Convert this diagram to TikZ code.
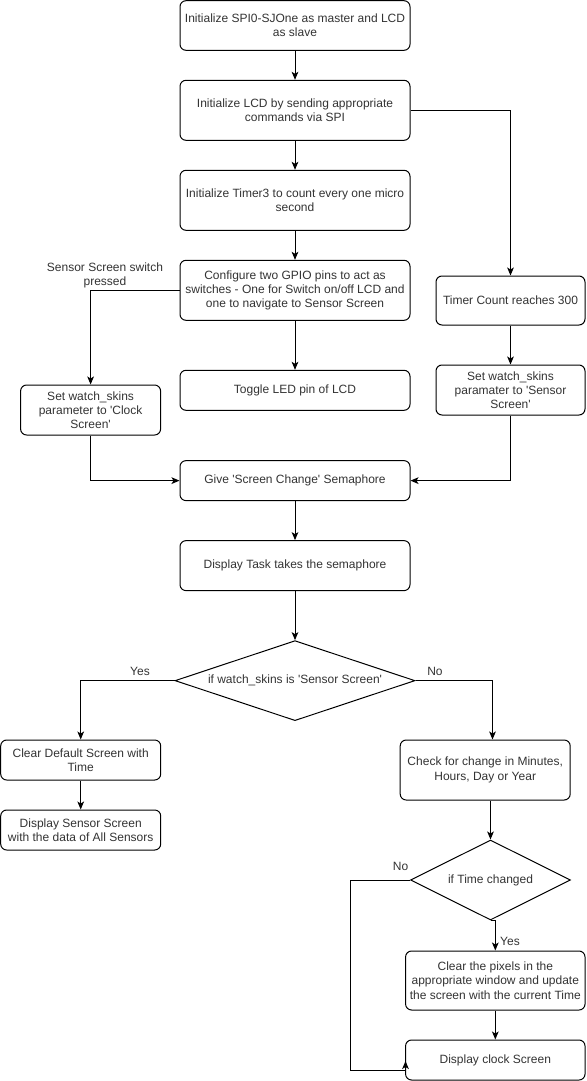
\documentclass[tikz,border=0pt]{standalone}
\usepackage{fontspec}
\setmainfont{Liberation Sans}
\usetikzlibrary{arrows.meta, positioning, shapes.geometric}

\newcommand{\sq}{\textquotesingle}

\begin{document}
\begin{tikzpicture}[
            x=0.75pt, y=-0.75pt,
            node distance = 21.75pt,
            semithick,
            font=\fontsize{9pt}{10.7pt}\selectfont,
            every node/.style={text=black!80},
            box/.style={draw=black, line width=0.75pt, rounded corners=4.5pt,
                align=center, inner sep=2pt, minimum width=172.5pt, minimum height=45pt},
            choice/.style={draw=black, line width=0.75pt, shape=diamond, aspect=3,
                align=center, inner sep=0pt},
            arr/.style={line width=0.75pt, -{Stealth[length=6pt, width=5pt, inset=1.5pt]}}
        ]

        \useasboundingbox (0,0) rectangle (586,1081);

        % main column
        \node[box, minimum height=37.2pt] (init) at (295,25.5)
            {Initialize SPI0-SJOne as master and LCD\\as slave};
        \node[box] (lcd) [below=of init]
            {Initialize LCD by sending appropriate\\commands via SPI};
        \node[box] (tim) [below=of lcd]
            {Initialize Timer3 to count every one micro\\second};
        \node[box] (gpio) [below=of tim]
            {Configure two GPIO pins to act as\\switches - One for Switch on/off LCD and\\one to navigate to Sensor Screen};
        \node[box, minimum height=30pt] (tog) [below=36.75pt of gpio] {Toggle LED pin of LCD};
        \node[box, minimum height=30pt] (sem) [below=37pt of tog]
            {Give \sq Screen Change\sq{} Semaphore};
        \node[box, minimum height=37.5pt] (task) [below=29.25pt of sem]
            {Display Task takes the semaphore};
        \node[choice, minimum width=180pt, minimum height=60pt] (dia) [below=36.75pt of task]
            {if watch\_skins is \sq Sensor Screen\sq};

        % side branches
        \node[box, minimum width=105pt, minimum height=37.5pt] (clk) at (90.6,410)
            {Set watch\_skins\\parameter to \sq Clock\\Screen\sq};
        \node[box, minimum width=111.75pt, minimum height=36.75pt] (tmr) at (510.5,300.5)
            {Timer Count reaches 300};
        \node[box, minimum width=111.75pt, minimum height=37.5pt] (snsr) at (510.5,390)
            {Set watch\_skins\\paramater to \sq Sensor\\Screen\sq};
        \node (swlbl) at (105,275.5) [align=center] {Sensor Screen switch\\pressed};

        % sensor screen
        \node[box, minimum width=120pt, minimum height=30pt] (clr) at (80.7,760)
            {Clear Default Screen with\\Time};
        \node[box, minimum width=120pt, minimum height=30pt] (dss) at (80.7,830)
            {Display Sensor Screen\\with the data of All Sensors};

        % clock screen
        \node[box, minimum width=127.5pt, minimum height=45pt] (chk) at (485.2,770)
            {Check for change in Minutes,\\Hours, Day or Year};
        \node[choice, minimum width=120pt, minimum height=60pt] (tchk) at (490.5,880)
            {if Time changed};
        \node[box, minimum width=134.6pt, minimum height=44.25pt] (pix) at (495.3,980.5)
            {Clear the pixels in the\\appropriate window and update\\the screen with the current Time};
        \node[box, minimum width=134.6pt, minimum height=30pt] (dcs) at (495.3,1060)
            {Display clock Screen};
        \coordinate (loopend) at (405.5,1061);

        \node (yes1) at (140,671) {Yes};
        \node (no1) at (435,671) {No};
        \node (no2) at (400.6,866) {No};
        \node (yes2) at (510,941) {Yes};

        \path[arr] (init) edge (lcd);
        \path[arr] (lcd) edge (tim);
        \path[arr] (tim) edge (gpio);
        \path[arr] (gpio) edge (tog);
        \path[arr] (sem) edge (task);
        \path[arr] (task) edge (dia);
        \path[arr] (clr) edge (dss);
        \path[arr] (pix) edge (dcs);
        \draw[arr] (lcd.east) -| (tmr.north);
        \draw[arr] (tmr) -- (snsr);
        \draw[arr] (gpio.west) -| (clk.north);
        \draw[arr] (clk.south) |- (sem.west);
        \draw[arr] (snsr.south) |- (sem.east);
        \draw[arr] (dia.west) -| (clr.north);
        \draw[arr] (dia.east) -| (chk.north -| 492.5,0);
        \draw[arr] (chk.south -| tchk.north) -- (tchk.north);
        \draw[arr] (tchk.south) -| (pix.north);
        \draw[arr] (tchk.west) -| (350.5,1070) -| (loopend);

    \end{tikzpicture}
\end{document}
